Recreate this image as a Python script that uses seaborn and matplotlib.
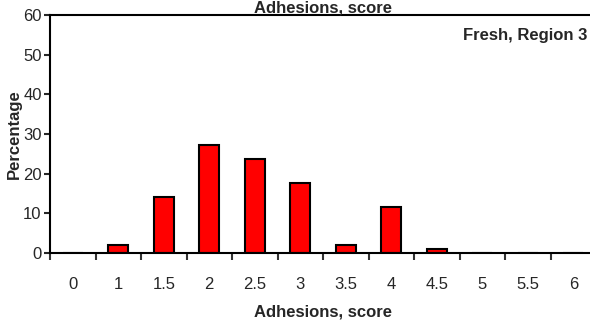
import numpy as np
import pandas as pd
import matplotlib
matplotlib.use('Agg')
import matplotlib.pyplot as plt
import seaborn as sns
from matplotlib import font_manager

# Data
scores = ['0', '1', '1.5', '2', '2.5', '3', '3.5', '4', '4.5', '5', '5.5', '6']
percentages = [0, 2.0, 14.2, 27.3, 23.7, 17.7, 2.1, 11.7, 1.1, 0, 0, 0]

BAR_RED = '#FF0000'

sns.set_style('white')
names = {f.name for f in font_manager.fontManager.ttflist}
fam = 'Liberation Sans Narrow' if 'Liberation Sans Narrow' in names else 'Liberation Sans'
plt.rcParams['font.family'] = [fam, 'DejaVu Sans']

df = pd.DataFrame({'score': scores, 'pct': percentages})

fig = plt.figure(figsize=(5.9, 3.26), dpi=100)
ax = fig.add_axes([50 / 590, (326 - 253) / 326, 546 / 590, 238 / 326])

sns.barplot(data=df, x='score', y='pct', order=scores, color=BAR_RED,
            edgecolor='black', linewidth=1.5, width=0.44, saturation=1, ax=ax)

ax.set_xlim(-0.5, len(scores) - 0.5)
ax.set_ylim(0, 60)
ax.set_yticks(range(0, 61, 10))

# labels at category centres, tick marks at category boundaries
ax.set_xticks(range(len(scores)))
ax.set_xticklabels(scores)
ax.set_xticks(np.arange(-0.5, len(scores), 1), minor=True)
ax.tick_params(axis='x', which='major', length=0, pad=17, labelsize=12)
ax.tick_params(axis='x', which='minor', length=5, width=1.5, color='#333333', direction='out', bottom=True)
ax.tick_params(axis='y', length=4, width=1.5, direction='out', left=True, labelsize=12, pad=2)

for side in ['left', 'bottom', 'top', 'right']:
    ax.spines[side].set_color('black')
    ax.spines[side].set_linewidth(1.5)

ax.set_xlabel('Adhesions, score', fontweight='bold', fontsize=12, labelpad=9)
ax.set_ylabel('Percentage', fontweight='bold', fontsize=12, labelpad=1)
ax.set_title('Adhesions, score', fontweight='bold', fontsize=12, pad=1.5)
ax.text(537 / 546, 0.915, 'Fresh, Region 3', transform=ax.transAxes,
        ha='right', va='center', fontweight='bold', fontsize=12)

fig.savefig('out.png', dpi=100)
